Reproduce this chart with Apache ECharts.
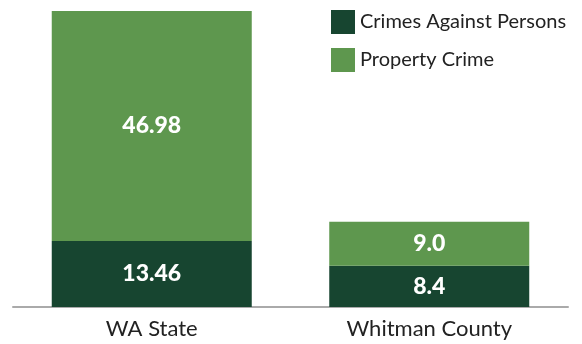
<!DOCTYPE html>
<html>
<head>
<meta charset="utf-8">
<script src="https://cdn.jsdelivr.net/npm/echarts@6/dist/echarts.min.js"></script>
<style>
  html, body { margin: 0; padding: 0; background: #fff; }
  #chart { width: 582px; height: 344px; }
</style>
</head>
<body>
<div id="chart"></div>
<script>
// Crime rates per 1,000 residents
const regions = ['WA State', 'Whitman County'];
const seriesNames = ['Crimes Against Persons', 'Property Crime'];
const personsCrime = [13.46, 8.4];
const propertyCrime = [46.98, 9.0];
const valueLabels = [['13.46', '8.4'], ['46.98', '9.0']];

const colors = ['#174530', '#5e974e'];
const fontFamily = 'Lato, "Open Sans", sans-serif';

const totals = regions.map((_, i) => personsCrime[i] + propertyCrime[i]);
const yMax = Math.max(...totals);

function makeSeries(idx, values) {
  return {
    name: seriesNames[idx],
    type: 'bar',
    stack: 'total',
    barWidth: 200,
    data: values,
    itemStyle: { color: colors[idx] },
    label: {
      show: true,
      position: 'inside',
      color: '#ffffff',
      fontFamily: fontFamily,
      fontWeight: 900,
      fontSize: 23,
      formatter: p => valueLabels[idx][p.dataIndex]
    }
  };
}

const chart = echarts.init(document.getElementById('chart'), null, { renderer: 'canvas' });
chart.setOption({
  animation: false,
  textStyle: { fontFamily: fontFamily },
  grid: { left: 13, right: 14, top: 11, bottom: 37 },
  legend: {
    orient: 'vertical',
    left: 326,
    top: 5,
    itemWidth: 24,
    itemHeight: 24,
    itemGap: 14,
    icon: 'rect',
    selectedMode: false,
    textStyle: { fontSize: 20, color: '#222', fontFamily: fontFamily },
    data: seriesNames
  },
  xAxis: {
    type: 'category',
    data: regions,
    axisLine: { lineStyle: { color: '#aaaaaa', width: 2 } },
    axisTick: { show: false },
    axisLabel: { fontSize: 22, color: '#222', margin: 11, fontFamily: fontFamily }
  },
  yAxis: {
    type: 'value',
    min: 0,
    max: yMax,
    show: false,
    splitLine: { show: false }
  },
  series: [makeSeries(0, personsCrime), makeSeries(1, propertyCrime)]
});
</script>
</body>
</html>
